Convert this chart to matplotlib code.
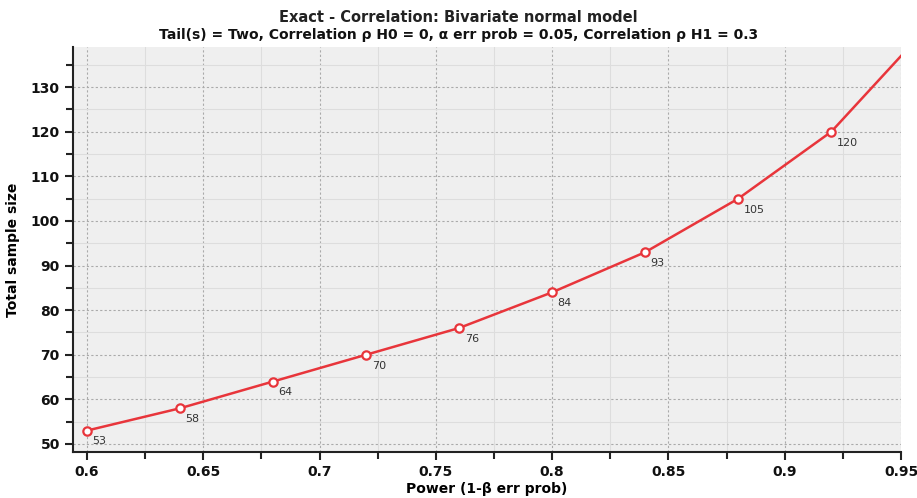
import numpy as np
import matplotlib
matplotlib.use("Agg")
import matplotlib.pyplot as plt
from matplotlib.ticker import MultipleLocator

# data
power = [0.60, 0.64, 0.68, 0.72, 0.76, 0.80, 0.84, 0.88, 0.92]
n_total = [53, 58, 64, 70, 76, 84, 93, 105, 120]
# curve keeps going past the last marker to the right edge
power_end = 0.95
n_end = 137

red = "#e8353b"

fig = plt.figure(figsize=(9.17, 4.98), dpi=100)
fig.patch.set_facecolor("white")
ax = fig.add_axes([0.0796, 0.0924, 0.903, 0.8132])
ax.set_facecolor("#efefef")

ax.plot(power + [power_end], n_total + [n_end], color=red, lw=1.8, zorder=3)
ax.plot(power, n_total, "o", ms=6, mfc="white", mec=red, mew=1.6, zorder=4)
for x, y in zip(power, n_total):
    ax.annotate(str(y), (x, y), xytext=(4, -10), textcoords="offset points",
                fontsize=8, color="#333333", zorder=5)

ax.set_xlim(0.594, 0.95)
ax.set_ylim(48.2, 139)
ax.xaxis.set_major_locator(MultipleLocator(0.05))
ax.xaxis.set_minor_locator(MultipleLocator(0.025))
ax.yaxis.set_major_locator(MultipleLocator(10))
ax.yaxis.set_minor_locator(MultipleLocator(5))
ax.set_xticks(np.arange(0.6, 0.951, 0.05))
ax.set_xticklabels(["0.6", "0.65", "0.7", "0.75", "0.8", "0.85", "0.9", "0.95"])

ax.grid(which="major", color="#aaaaaa", ls=(0, (2, 2)), lw=0.8)
ax.grid(which="minor", color="#dddddd", ls="-", lw=0.8)
ax.set_axisbelow(True)

for s in ["top", "right"]:
    ax.spines[s].set_visible(False)
for s in ["left", "bottom"]:
    ax.spines[s].set_color("#222222")
    ax.spines[s].set_linewidth(1.5)

ax.tick_params(which="major", direction="out", length=6, width=1.5,
               color="#222222", labelsize=10, labelcolor="#111111")
ax.tick_params(which="minor", direction="out", length=5, width=1.5, color="#222222")
for lab in ax.get_xticklabels() + ax.get_yticklabels():
    lab.set_fontweight("bold")

ax.set_xlabel("Power (1-β err prob)", fontsize=10, fontweight="bold", labelpad=2)
ax.set_ylabel("Total sample size", fontsize=10, fontweight="bold", labelpad=8)

fig.text(0.5, 0.965, "Exact - Correlation: Bivariate normal model",
         ha="center", va="center", fontsize=10.5, fontweight="bold", color="#222222")
fig.text(0.5, 0.93, "Tail(s) = Two, Correlation ρ H0 = 0, α err prob = 0.05, Correlation ρ H1 = 0.3",
         ha="center", va="center", fontsize=10, fontweight="bold", color="#111111",
         bbox=dict(facecolor="white", edgecolor="none", pad=2))

fig.savefig("out.png", dpi=100)
